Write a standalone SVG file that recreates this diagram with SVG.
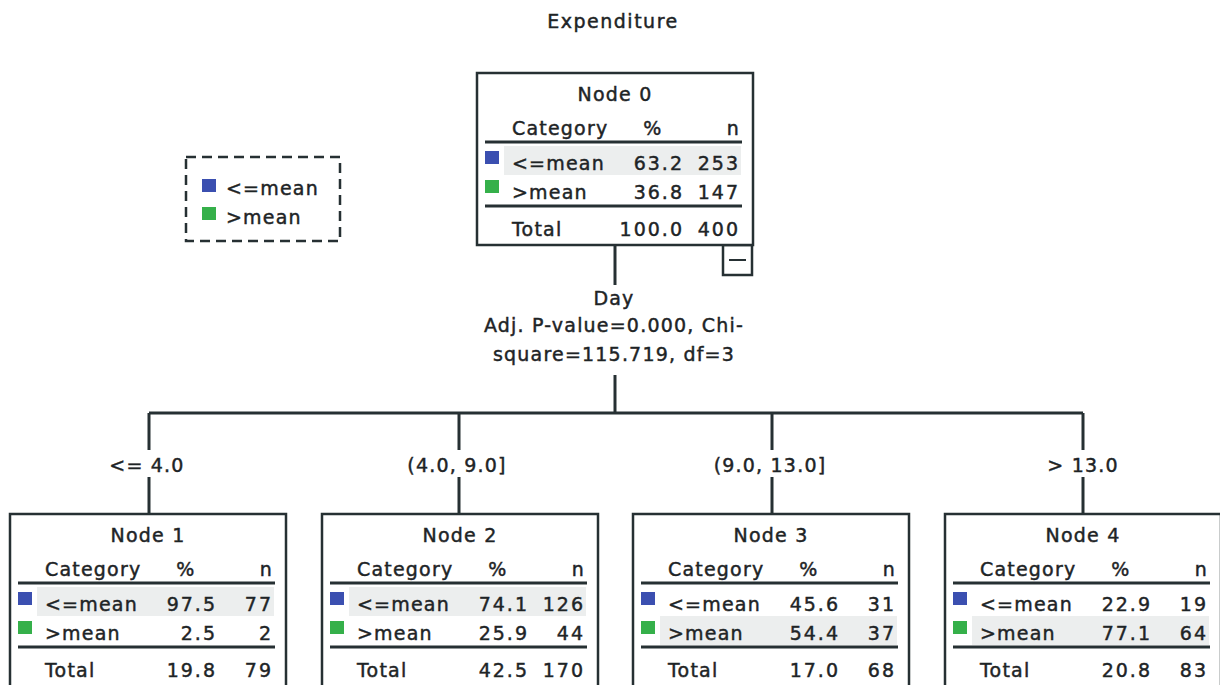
<svg xmlns="http://www.w3.org/2000/svg" width="1220" height="685" viewBox="0 0 1220 685">
<style>
text{font-family:"DejaVu Sans","Liberation Sans",sans-serif;font-size:19px;fill:#1e2426;stroke:#1e2426;stroke-width:0.45px;letter-spacing:1.2px}
.num{letter-spacing:2px;text-anchor:end}
.mid{text-anchor:middle}
.end{text-anchor:end}
.box{fill:#fff;stroke:#263033;stroke-width:2.5}
.sep{stroke:#263033;stroke-width:3}
.hl{fill:#eceeee}
.b{fill:#3b4fb0}
.g{fill:#35b04a}
.con{stroke:#263033;stroke-width:3;fill:none}
</style>
<rect width="1220" height="685" fill="#fff"/>
<text x="613" y="28" class="mid" style="letter-spacing:1.5px">Expenditure</text>

<g id="legend">
<rect x="186" y="157" width="154" height="84" fill="none" stroke="#263033" stroke-width="2.5" stroke-dasharray="10,6"/>
<rect x="202" y="179" width="14" height="13" class="b"/>
<text x="226" y="195">&lt;=mean</text>
<rect x="202" y="207" width="14" height="13" class="g"/>
<text x="226" y="224">&gt;mean</text>
</g>

<g id="connectors">
<line x1="615" y1="245" x2="615" y2="285" class="con"/>
<line x1="615" y1="375" x2="615" y2="413" class="con"/>
<line x1="149" y1="413" x2="1083" y2="413" class="con"/>
<path d="M149 413V450M149 477V514M459 413V450M459 477V514M772 413V450M772 477V514M1083 413V450M1083 477V514" class="con"/>
<rect x="723" y="245" width="29" height="30" class="box"/>
<line x1="729" y1="260" x2="746" y2="260" stroke="#263033" stroke-width="2"/>
</g>

<g id="split-label">
<text x="614" y="305" class="mid">Day</text>
<text x="614" y="332" class="mid">Adj. P-value=0.000, Chi-</text>
<text x="614" y="361" class="mid">square=115.719, df=3</text>
<text x="147" y="472" class="mid">&lt;= 4.0</text>
<text x="457" y="472" class="mid">(4.0, 9.0]</text>
<text x="770" y="472" class="mid">(9.0, 13.0]</text>
<text x="1083" y="472" class="mid">&gt; 13.0</text>
</g>

<g id="node0" transform="translate(477,73)">
<rect x="0" y="0" width="276" height="172" class="box"/>
<text x="138" y="28" class="mid">Node 0</text>
<text x="35" y="62">Category</text><text x="176" y="62" class="mid">%</text><text x="263" y="62" class="end">n</text>
<line x1="8" y1="69" x2="265" y2="69" class="sep"/>
<rect x="27" y="73" width="237" height="29" class="hl"/>
<rect x="8" y="78" width="14" height="13" class="b"/>
<text x="35" y="97">&lt;=mean</text><text x="207" y="97" class="num">63.2</text><text x="263" y="97" class="num">253</text>
<rect x="8" y="107" width="14" height="13" class="g"/>
<text x="35" y="126">&gt;mean</text><text x="207" y="126" class="num">36.8</text><text x="263" y="126" class="num">147</text>
<line x1="8" y1="133" x2="265" y2="133" class="sep"/>
<text x="35" y="163">Total</text><text x="207" y="163" class="num">100.0</text><text x="263" y="163" class="num">400</text>
</g>

<g id="node1" transform="translate(10,514)">
<rect x="0" y="0" width="276" height="190" class="box"/>
<text x="138" y="28" class="mid">Node 1</text>
<text x="35" y="62">Category</text><text x="176" y="62" class="mid">%</text><text x="263" y="62" class="end">n</text>
<line x1="8" y1="69" x2="265" y2="69" class="sep"/>
<rect x="27" y="73" width="237" height="29" class="hl"/>
<rect x="8" y="78" width="14" height="13" class="b"/>
<text x="35" y="97">&lt;=mean</text><text x="207" y="97" class="num">97.5</text><text x="263" y="97" class="num">77</text>
<rect x="8" y="107" width="14" height="13" class="g"/>
<text x="35" y="126">&gt;mean</text><text x="207" y="126" class="num">2.5</text><text x="263" y="126" class="num">2</text>
<line x1="8" y1="133" x2="265" y2="133" class="sep"/>
<text x="35" y="163">Total</text><text x="207" y="163" class="num">19.8</text><text x="263" y="163" class="num">79</text>
</g>

<g id="node2" transform="translate(322,514)">
<rect x="0" y="0" width="276" height="190" class="box"/>
<text x="138" y="28" class="mid">Node 2</text>
<text x="35" y="62">Category</text><text x="176" y="62" class="mid">%</text><text x="263" y="62" class="end">n</text>
<line x1="8" y1="69" x2="265" y2="69" class="sep"/>
<rect x="27" y="73" width="237" height="29" class="hl"/>
<rect x="8" y="78" width="14" height="13" class="b"/>
<text x="35" y="97">&lt;=mean</text><text x="207" y="97" class="num">74.1</text><text x="263" y="97" class="num">126</text>
<rect x="8" y="107" width="14" height="13" class="g"/>
<text x="35" y="126">&gt;mean</text><text x="207" y="126" class="num">25.9</text><text x="263" y="126" class="num">44</text>
<line x1="8" y1="133" x2="265" y2="133" class="sep"/>
<text x="35" y="163">Total</text><text x="207" y="163" class="num">42.5</text><text x="263" y="163" class="num">170</text>
</g>

<g id="node3" transform="translate(633,514)">
<rect x="0" y="0" width="276" height="190" class="box"/>
<text x="138" y="28" class="mid">Node 3</text>
<text x="35" y="62">Category</text><text x="176" y="62" class="mid">%</text><text x="263" y="62" class="end">n</text>
<line x1="8" y1="69" x2="265" y2="69" class="sep"/>
<rect x="8" y="78" width="14" height="13" class="b"/>
<text x="35" y="97">&lt;=mean</text><text x="207" y="97" class="num">45.6</text><text x="263" y="97" class="num">31</text>
<rect x="27" y="102" width="237" height="29" class="hl"/>
<rect x="8" y="107" width="14" height="13" class="g"/>
<text x="35" y="126">&gt;mean</text><text x="207" y="126" class="num">54.4</text><text x="263" y="126" class="num">37</text>
<line x1="8" y1="133" x2="265" y2="133" class="sep"/>
<text x="35" y="163">Total</text><text x="207" y="163" class="num">17.0</text><text x="263" y="163" class="num">68</text>
</g>

<g id="node4" transform="translate(945,514)">
<rect x="0" y="0" width="276" height="190" class="box"/>
<text x="138" y="28" class="mid">Node 4</text>
<text x="35" y="62">Category</text><text x="176" y="62" class="mid">%</text><text x="263" y="62" class="end">n</text>
<line x1="8" y1="69" x2="265" y2="69" class="sep"/>
<rect x="8" y="78" width="14" height="13" class="b"/>
<text x="35" y="97">&lt;=mean</text><text x="207" y="97" class="num">22.9</text><text x="263" y="97" class="num">19</text>
<rect x="27" y="102" width="237" height="29" class="hl"/>
<rect x="8" y="107" width="14" height="13" class="g"/>
<text x="35" y="126">&gt;mean</text><text x="207" y="126" class="num">77.1</text><text x="263" y="126" class="num">64</text>
<line x1="8" y1="133" x2="265" y2="133" class="sep"/>
<text x="35" y="163">Total</text><text x="207" y="163" class="num">20.8</text><text x="263" y="163" class="num">83</text>
</g>
</svg>
